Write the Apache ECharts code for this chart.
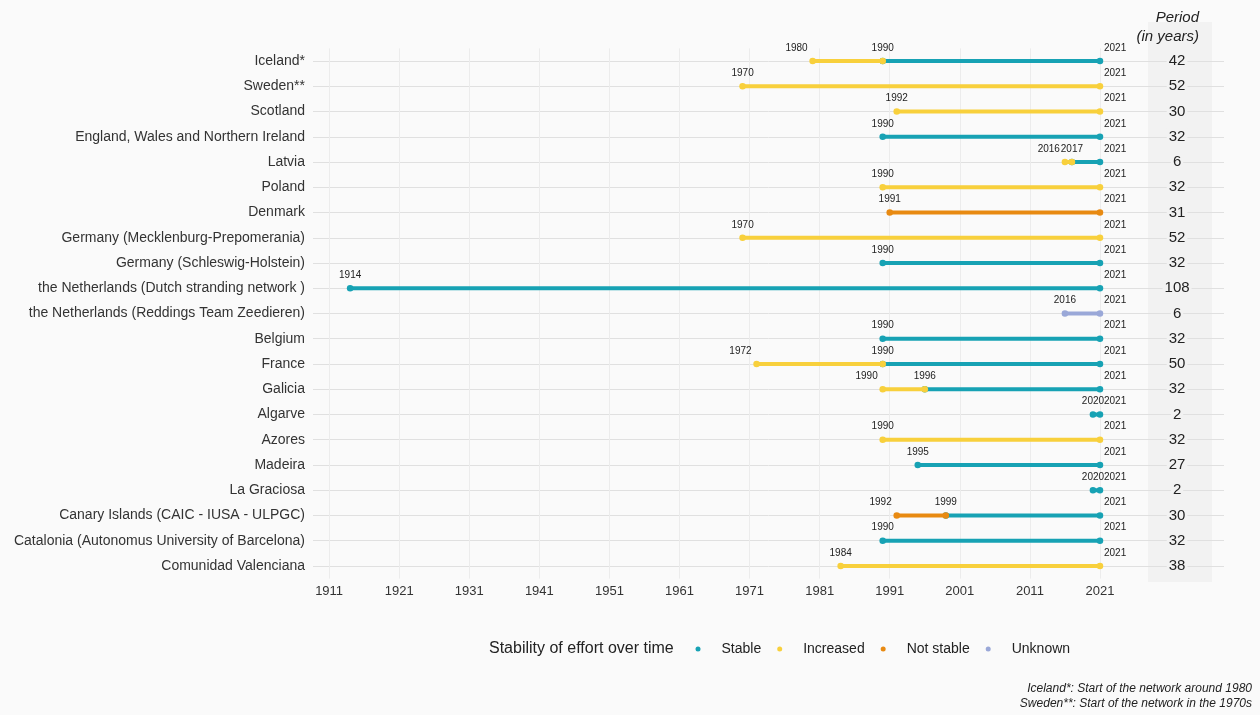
<!DOCTYPE html>
<html><head><meta charset="utf-8">
<script src="https://cdn.jsdelivr.net/npm/echarts@6/dist/echarts.min.js"></script>
<style>html,body{margin:0;padding:0;background:#fafafa}#c{width:1260px;height:715px}</style>
</head><body><div id="c"></div>
<script>
const rows = ['Iceland*','Sweden**','Scotland','England, Wales and Northern Ireland','Latvia','Poland','Denmark','Germany (Mecklenburg-Prepomerania)','Germany (Schleswig-Holstein)','the Netherlands (Dutch stranding network )','the Netherlands (Reddings Team Zeedieren)','Belgium','France','Galicia','Algarve','Azores','Madeira','La Graciosa','Canary Islands (CAIC - IUSA - ULPGC)','Catalonia (Autonomus University of Barcelona)','Comunidad Valenciana'];
const periods = [42,52,30,32,6,32,31,52,32,108,6,32,50,32,2,32,27,2,30,32,38];
const yearTicks = [1911,1921,1931,1941,1951,1961,1971,1981,1991,2001,2011,2021];
const statusNames = ['Stable','Increased','Not stable','Unknown'];
const stable = [
  ['Iceland*',1990,2021],['England, Wales and Northern Ireland',1990,2021],['Latvia',2017,2021],
  ['Germany (Schleswig-Holstein)',1990,2021],['the Netherlands (Dutch stranding network )',1914,2021],
  ['Belgium',1990,2021],['France',1990,2021],['Galicia',1996,2021],['Algarve',2020,2021],
  ['Madeira',1995,2021],['La Graciosa',2020,2021],['Canary Islands (CAIC - IUSA - ULPGC)',1999,2021],
  ['Catalonia (Autonomus University of Barcelona)',1990,2021]];
const increased = [
  ['Iceland*',1980,1990],['Sweden**',1970,2021],['Scotland',1992,2021],['Latvia',2016,2017],
  ['Poland',1990,2021],['Germany (Mecklenburg-Prepomerania)',1970,2021],['France',1972,1990],
  ['Galicia',1990,1996],['Azores',1990,2021],['Comunidad Valenciana',1984,2021]];
const notStable = [['Denmark',1991,2021],['Canary Islands (CAIC - IUSA - ULPGC)',1992,1999]];
const unknown = [['the Netherlands (Reddings Team Zeedieren)',2016,2021]];

const colors = ['#17a2b4','#f8d03c','#e88a12','#9aa8d8'];
const groups = [stable, increased, notStable, unknown];
const FONT = '"Liberation Sans", Arial, sans-serif';

// build year labels per row
const labelData = [];
rows.forEach((r, ri) => {
  const segs = [];
  groups.forEach(g => g.forEach(s => { if (s[0] === r) segs.push(s); }));
  segs.sort((a, b) => a[1] - b[1]);
  const end = Math.max(...segs.map(s => s[2]));
  segs.forEach((s, i) => labelData.push([s[1], ri, (segs.length > 1 && i === 0) ? 2 : 0]));
  labelData.push([end, ri, 1]);
});

function segRender(color) {
  return function (params, api) {
    const y = api.value(2);
    const p1 = api.coord([api.value(0), y]);
    const p2 = api.coord([api.value(1), y]);
    return {
      type: 'group',
      children: [
        {type: 'line', shape: {x1: p1[0], y1: p1[1], x2: p2[0], y2: p2[1]}, style: {stroke: color, lineWidth: 4, lineCap: 'round'}},
        {type: 'circle', shape: {cx: p1[0], cy: p1[1], r: 3.3}, style: {fill: color}},
        {type: 'circle', shape: {cx: p2[0], cy: p2[1], r: 3.3}, style: {fill: color}}
      ]
    };
  };
}

const series = statusNames.map((name, k) => ({
  name: name,
  type: 'custom',
  color: colors[k],
  z: 5,
  renderItem: segRender(colors[k]),
  encode: {x: [0, 1], y: 2},
  data: groups[k].map(s => [s[1], s[2], rows.indexOf(s[0])])
}));

// gridlines
series.push({
  type: 'line', name: 'grid', data: [], z: 1, silent: true,
  markLine: {
    silent: true, symbol: ['none', 'none'], label: {show: false},
    lineStyle: {color: '#e0e0e0', width: 1, type: 'solid'},
    emphasis: {disabled: true},
    data: rows.map(r => ({yAxis: r})).concat(yearTicks.map(t => ({xAxis: t, lineStyle: {color: '#ececec'}})))
  }
});

// year labels
series.push({
  type: 'custom', name: 'yearLabels', z: 6, silent: true,
  encode: {x: 0, y: 1},
  data: labelData,
  renderItem: function (params, api) {
    const p = api.coord([api.value(0), api.value(1)]);
    const a = api.value(2);
    const align = a === 1 ? 'left' : a === 2 ? 'right' : 'center';
    const dx = a === 1 ? 4 : a === 2 ? -5 : 0;
    return {type: 'text', x: p[0] + dx, y: p[1] - 8,
      style: {text: String(api.value(0)), fill: '#222', font: '10px ' + FONT, align: align, verticalAlign: 'bottom'}};
  }
});

// period values
series.push({
  type: 'custom', name: 'periods', z: 6, silent: true,
  encode: {x: 0, y: 1},
  data: periods.map((v, i) => [2032, i, v]),
  renderItem: function (params, api) {
    const p = api.coord([api.value(0), api.value(1)]);
    return {type: 'text', x: p[0], y: p[1],
      style: {text: String(api.value(2)), fill: '#222', font: '15px ' + FONT, align: 'center', verticalAlign: 'middle',
        backgroundColor: '#f2f2f2', padding: [1, 2]}};
  }
});

const chart = echarts.init(document.getElementById('c'), null, {renderer: 'canvas'});
chart.setOption({
  backgroundColor: '#fafafa',
  animation: false,
  grid: {left: 313, right: 36, top: 48.4, bottom: 136.4, containLabel: false},
  xAxis: {
    type: 'value', min: 1908.7, max: 2038.7,
    axisLine: {show: false}, axisTick: {show: false}, splitLine: {show: false},
    axisLabel: {customValues: yearTicks, color: '#333', fontSize: 13, fontFamily: FONT, margin: 6, formatter: v => String(v)}
  },
  yAxis: {
    type: 'category', data: rows, inverse: true,
    axisLine: {show: false}, axisTick: {show: false}, splitLine: {show: false},
    axisLabel: {color: '#333', fontSize: 14, fontFamily: FONT, margin: 8}
  },
  legend: {
    data: statusNames, left: 695.5, top: 641, padding: 0, itemGap: 16,
    icon: 'circle', itemWidth: 5, itemHeight: 5,
    textStyle: {fontSize: 14, fontFamily: FONT, color: '#222', lineHeight: 16, padding: [0, 0, 0, 16]},
    selectedMode: false
  },
  graphic: [
    {type: 'rect', z: -1, silent: true, shape: {x: 1148, y: 22, width: 64, height: 560}, style: {fill: '#f2f2f2'}},
    {type: 'text', x: 1199, y: 18, style: {text: 'Period', font: 'italic 15px ' + FONT, fill: '#222', align: 'right', verticalAlign: 'middle'}},
    {type: 'text', x: 1199, y: 37, style: {text: '(in years)', font: 'italic 15px ' + FONT, fill: '#222', align: 'right', verticalAlign: 'middle'}},
    {type: 'text', x: 489, y: 649, style: {text: 'Stability of effort over time', font: '16px ' + FONT, fill: '#222', align: 'left', verticalAlign: 'middle'}},
    {type: 'text', x: 1252, y: 689, style: {text: 'Iceland*: Start of the network around 1980', font: 'italic 12px ' + FONT, fill: '#222', align: 'right', verticalAlign: 'middle'}},
    {type: 'text', x: 1252, y: 704, style: {text: 'Sweden**: Start of the network in the 1970s', font: 'italic 12px ' + FONT, fill: '#222', align: 'right', verticalAlign: 'middle'}}
  ],
  series: series
});
</script></body></html>
